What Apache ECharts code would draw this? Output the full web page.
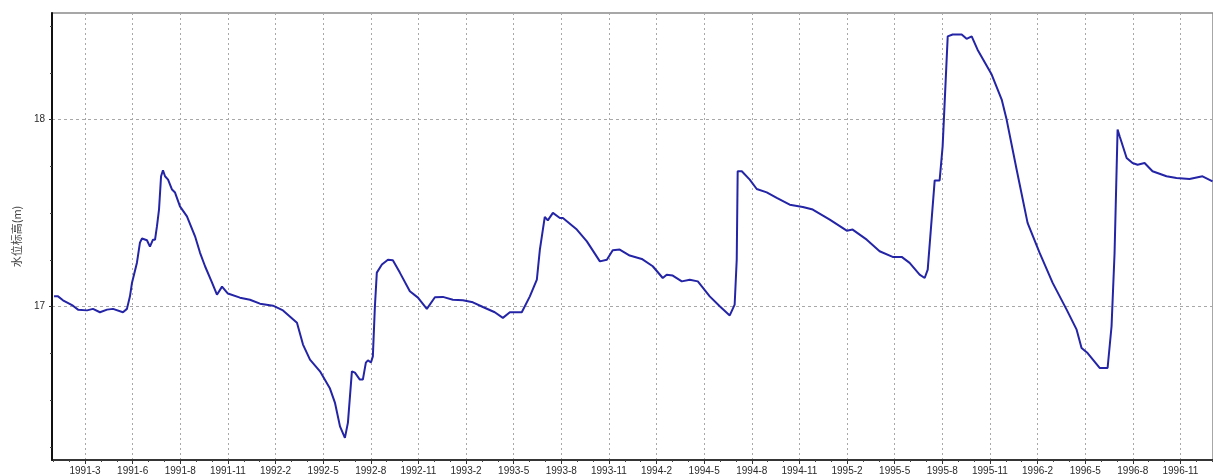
<!DOCTYPE html>
<html>
<head>
<meta charset="utf-8">
<script src="https://cdn.jsdelivr.net/npm/echarts@6/dist/echarts.min.js"></script>
<style>
  html, body { margin: 0; padding: 0; background: #ffffff; }
  #chart { width: 1213px; height: 476px; }
</style>
</head>
<body>
<div id="chart"></div>
<script>
// Labels of the time axis, one per major tick (three months apart)
const tickLabels = [
  '1991-3', '1991-6', '1991-8', '1991-11', '1992-2', '1992-5', '1992-8', '1992-11',
  '1993-2', '1993-5', '1993-8', '1993-11', '1994-2', '1994-5', '1994-8', '1994-11',
  '1995-2', '1995-5', '1995-8', '1995-11', '1996-2', '1996-5', '1996-8', '1996-11'
];

// Time of each reading, in months counted from the first labelled tick
const months = [
  -1.95, -1.70, -1.39, -0.76, -0.44, 0.13, 0.50, 0.94, 1.39, 1.76, 2.39, 2.64, 2.83, 2.96,
  3.27, 3.46, 3.59, 3.90, 4.09, 4.28, 4.41, 4.53, 4.66, 4.79, 4.91, 5.04, 5.23, 5.48, 5.67,
  5.98, 6.42, 6.93, 7.24, 7.56, 8.00, 8.31, 8.63, 9.00, 9.76, 10.39, 11.02, 11.84, 12.47,
  13.35, 13.73, 14.17, 14.80, 15.43, 15.74, 16.06, 16.37, 16.56, 16.81, 17.00, 17.31, 17.50,
  17.69, 17.82, 18.01, 18.13, 18.26, 18.38, 18.70, 19.08, 19.39, 19.83, 20.46, 20.97, 21.53,
  22.04, 22.54, 23.17, 23.80, 24.43, 25.06, 25.81, 26.32, 26.76, 27.51, 28.02, 28.46, 28.65,
  28.96, 29.15, 29.47, 29.91, 30.10, 30.98, 31.61, 32.43, 32.87, 33.24, 33.68, 34.31, 35.07,
  35.76, 36.39, 36.64, 37.02, 37.59, 38.09, 38.60, 39.35, 39.98, 40.61, 40.92, 41.05, 41.11,
  41.37, 41.87, 42.31, 42.94, 43.57, 44.39, 45.21, 45.84, 46.91, 47.98, 48.35, 49.24, 50.05,
  50.87, 51.44, 51.94, 52.57, 52.89, 53.08, 53.52, 53.83, 54.02, 54.34, 54.65, 55.22, 55.53,
  55.85, 56.22, 57.11, 57.74, 58.05, 58.68, 59.37, 60.13, 60.95, 61.83, 62.46, 62.77, 63.15,
  63.91, 64.41, 64.66, 64.85, 65.04, 65.17, 65.61, 65.98, 66.30, 66.74, 67.24, 68.12, 68.75,
  69.57, 70.39, 71.02
];

// Groundwater level (m) at each reading
const levels = [
  17.055, 17.055, 17.034, 17.005, 16.984, 16.980, 16.988, 16.970, 16.984, 16.988, 16.970,
  16.988, 17.055, 17.128, 17.235, 17.342, 17.364, 17.355, 17.321, 17.358, 17.358, 17.429,
  17.519, 17.697, 17.729, 17.697, 17.679, 17.626, 17.610, 17.536, 17.483, 17.376, 17.289,
  17.216, 17.128, 17.064, 17.107, 17.070, 17.048, 17.037, 17.016, 17.005, 16.980, 16.914,
  16.797, 16.717, 16.654, 16.562, 16.487, 16.360, 16.298, 16.380, 16.654, 16.647, 16.610,
  16.610, 16.701, 16.713, 16.701, 16.734, 17.002, 17.182, 17.225, 17.251, 17.248, 17.182,
  17.082, 17.048, 16.988, 17.050, 17.052, 17.037, 17.034, 17.023, 16.998, 16.970, 16.940,
  16.970, 16.970, 17.055, 17.144, 17.305, 17.480, 17.461, 17.501, 17.474, 17.474, 17.412,
  17.349, 17.242, 17.251, 17.301, 17.305, 17.273, 17.255, 17.216, 17.153, 17.171, 17.166,
  17.135, 17.144, 17.135, 17.055, 17.002, 16.953, 17.011, 17.251, 17.724, 17.724, 17.679,
  17.629, 17.611, 17.581, 17.545, 17.533, 17.519, 17.465, 17.406, 17.412, 17.358, 17.296,
  17.266, 17.266, 17.234, 17.171, 17.153, 17.198, 17.675, 17.675, 17.857, 18.445, 18.455,
  18.455, 18.432, 18.445, 18.374, 18.241, 18.107, 18.000, 17.733, 17.448, 17.287, 17.127,
  16.984, 16.877, 16.779, 16.752, 16.672, 16.672, 16.895, 17.287, 17.947, 17.911, 17.795,
  17.768, 17.759, 17.768, 17.724, 17.697, 17.688, 17.683, 17.697, 17.670
];

// Level labels shown on the vertical axis, and the small ticks between them
const levelTicks = [17, 18];
const levelMinorTicks = [16.25, 16.5, 16.75, 17.25, 17.5, 17.75, 18.25, 18.5];

const majorMonths = tickLabels.map((_, i) => i * 3);
const minorMonths = [];
for (let m = -2; m <= 71; m++) {
  if (m % 3 !== 0) minorMonths.push(m);
}

const X_MIN = -2.08, X_MAX = 71.05;
const Y_MIN = 16.18, Y_MAX = 18.57;

const chart = echarts.init(document.getElementById('chart'), null, { renderer: 'canvas' });

chart.setOption({
  animation: false,
  backgroundColor: '#ffffff',
  grid: {
    left: 52, right: -2, top: 13, bottom: 16,
    show: true,
    borderColor: '#8a8a8a',
    borderWidth: 1.5
  },
  xAxis: [
    {
      type: 'value',
      min: X_MIN, max: X_MAX,
      axisLine: { show: true, onZero: false, lineStyle: { color: '#111', width: 1.5 } },
      axisTick: { show: true, customValues: majorMonths, length: 4, lineStyle: { color: '#333' } },
      axisLabel: {
        customValues: majorMonths,
        formatter: v => tickLabels[Math.round(v / 3)],
        color: '#2a2a2a', fontSize: 10, fontFamily: 'Arial, "Liberation Sans", sans-serif',
        margin: 6
      },
      splitLine: { show: true, lineStyle: { color: '#a8a8a8', type: [2, 3], width: 1 } }
    },
    {
      type: 'value',
      position: 'bottom',
      offset: 0,
      min: X_MIN, max: X_MAX,
      axisLine: { show: false, onZero: false },
      axisTick: { show: true, customValues: minorMonths, length: 2, lineStyle: { color: '#444' } },
      axisLabel: { show: false },
      splitLine: { show: false }
    }
  ],
  yAxis: [
    {
      type: 'value',
      min: Y_MIN, max: Y_MAX,
      name: '水位标高(m)',
      nameLocation: 'middle',
      nameGap: 30,
      nameRotate: 90,
      nameTextStyle: { color: '#444', fontSize: 11, fontFamily: '"Noto Sans CJK SC", sans-serif' },
      axisLine: { show: true, onZero: false, lineStyle: { color: '#111', width: 2 } },
      axisTick: { show: true, customValues: levelTicks, length: 3, lineStyle: { color: '#333' } },
      axisLabel: {
        customValues: levelTicks,
        color: '#2a2a2a', fontSize: 10, fontFamily: 'Arial, "Liberation Sans", sans-serif',
        margin: 7
      },
      splitLine: { show: true, lineStyle: { color: '#a8a8a8', type: [3, 3], width: 1 } }
    },
    {
      type: 'value',
      position: 'left',
      offset: 0,
      min: Y_MIN, max: Y_MAX,
      axisLine: { show: false, onZero: false },
      axisTick: { show: true, customValues: levelMinorTicks, length: 2, lineStyle: { color: '#444' } },
      axisLabel: { show: false },
      splitLine: { show: false }
    }
  ],
  series: [
    {
      type: 'line',
      xAxisIndex: 0,
      yAxisIndex: 0,
      data: months.map((m, i) => [m, levels[i]]),
      showSymbol: false,
      smooth: false,
      lineStyle: { color: '#2424a6', width: 2 },
      clip: true
    }
  ]
});
</script>
</body>
</html>
